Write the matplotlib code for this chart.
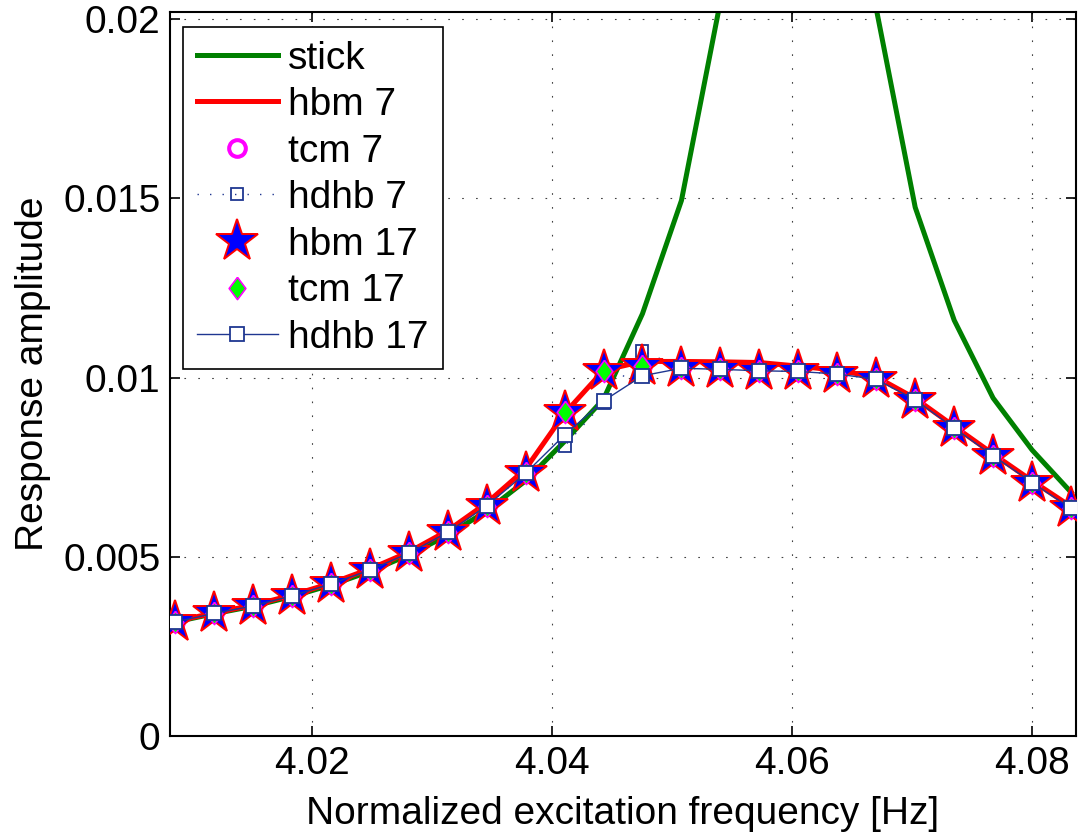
import matplotlib
matplotlib.use("Agg")
import matplotlib.pyplot as plt
import numpy as np

plt.rcParams['font.family'] = ['Liberation Sans', 'DejaVu Sans']

# ---- data ----
freq = [4.00858, 4.01183, 4.01508, 4.01832, 4.02157, 4.02482, 4.02806, 4.03131,
        4.03456, 4.03780, 4.04105, 4.04430, 4.04754, 4.05079, 4.05404, 4.05728,
        4.06053, 4.06378, 4.06702, 4.07027, 4.07352, 4.07676, 4.08001, 4.08326]

stick = [0.00318, 0.00341, 0.00362, 0.00389, 0.00421, 0.00459, 0.00505, 0.00560,
         0.00628, 0.00712, 0.00822, 0.00940, 0.01178, 0.01494, 0.02050, 0.03500,
         0.05000, 0.03000, 0.02030, 0.01475, 0.01160, 0.00943, 0.00798, 0.00680]

hbm7 = [0.00320, 0.00343, 0.00365, 0.00393, 0.00426, 0.00466, 0.00513, 0.00573,
        0.00650, 0.00745, 0.00900, 0.01020, 0.01045, 0.01045, 0.01044, 0.01042,
        0.01032, 0.01020, 0.01002, 0.00942, 0.00864, 0.00787, 0.00712, 0.00640]

tcm7 = [0.00318, 0.00342, 0.00363, 0.00391, 0.00424, 0.00463, 0.00510, 0.00568,
        0.00642, 0.00733, 0.00905, 0.01017, 0.01031, 0.01026, 0.01023, 0.01019,
        0.01017, 0.01010, 0.00995, 0.00938, 0.00859, 0.00782, 0.00707, 0.00635]

hdhb7 = [0.00318, 0.00342, 0.00363, 0.00391, 0.00424, 0.00463, 0.00510, 0.00568,
         0.00642, 0.00733, 0.00809, 0.00930, 0.01075, 0.01026, 0.01023, 0.01019,
         0.01017, 0.01010, 0.00995, 0.00938, 0.00859, 0.00782, 0.00707, 0.00635]

hbm17 = [0.00318, 0.00342, 0.00363, 0.00391, 0.00424, 0.00463, 0.00510, 0.00568,
         0.00642, 0.00733, 0.00905, 0.01017, 0.01031, 0.01026, 0.01023, 0.01019,
         0.01017, 0.01010, 0.00995, 0.00938, 0.00859, 0.00782, 0.00707, 0.00635]

tcm17 = [0.00318, 0.00342, 0.00363, 0.00391, 0.00424, 0.00463, 0.00510, 0.00568,
         0.00642, 0.00733, 0.00905, 0.01017, 0.01031, 0.01026, 0.01023, 0.01019,
         0.01017, 0.01010, 0.00995, 0.00938, 0.00859, 0.00782, 0.00707, 0.00635]

hdhb17 = [0.00318, 0.00342, 0.00363, 0.00391, 0.00424, 0.00463, 0.00510, 0.00568,
          0.00642, 0.00733, 0.00840, 0.00935, 0.01005, 0.01026, 0.01023, 0.01019,
          0.01017, 0.01010, 0.00995, 0.00938, 0.00859, 0.00782, 0.00707, 0.00635]

xticks = [4.02, 4.04, 4.06, 4.08]
xticklabels = ['4.02', '4.04', '4.06', '4.08']
yticks = [0, 0.005, 0.01, 0.015, 0.02]
yticklabels = ['0', '0.005', '0.01', '0.015', '0.02']

# ---- figure ----
W, H = 1088, 832
fig = plt.figure(figsize=(W / 100, H / 100), dpi=100)
ax = fig.add_axes([170 / W, 1 - 736 / H, (1076 - 170) / W, (736 - 12) / H])

navy = '#1f3791'
diamond = [(0, 1), (0.75, 0), (0, -1), (-0.75, 0), (0, 1)]

ax.plot(freq, stick, color='#008000', lw=3.6, label='stick', zorder=2)
ax.plot(freq, hbm7, color='#ff0000', lw=3.6, label='hbm 7', zorder=3)
ax.plot(freq, tcm7, ls='none', marker='o', ms=12, mfc='none', mec='#ff00ff',
        mew=2.9, label='tcm 7', zorder=4)
ax.plot(freq, hdhb7, ls=(0, (1, 8)), lw=1.0, color=navy, marker='s', ms=9,
        mfc='none', mec=navy, mew=1.3, label='hdhb 7', zorder=5)
ax.plot(freq, hbm17, ls='none', marker='*', ms=32, mfc='#0000ff', mec='#ff0000',
        mew=1.4, label='hbm 17', zorder=6)
ax.plot(freq, tcm17, ls='none', marker=diamond, ms=16, mfc='#00ff00', mec='#ff00ff',
        mew=1.2, label='tcm 17', zorder=7)
ax.plot(freq, hdhb17, ls='-', lw=1.0, color=navy, marker='s', ms=9.5, mfc='white',
        mec=navy, mew=1.3, label='hdhb 17', zorder=8)

ax.set_xlim(4.00817, 4.08367)
ax.set_ylim(0, 0.0202)
ax.set_xticks(xticks)
ax.set_xticklabels(xticklabels)
ax.set_yticks(yticks)
ax.set_yticklabels(yticklabels)

ax.grid(True, color='#404040', ls=(0, (1.5, 11)), lw=0.8)
ax.tick_params(direction='in', length=7, width=1.2, labelsize=28, pad=7,
               top=True, right=True, colors='black')
for s in ax.spines.values():
    s.set_linewidth(1.5)
    s.set_color('black')

ax.set_xlabel('Normalized excitation frequency [Hz]', fontsize=28)
ax.set_ylabel('Response amplitude', fontsize=28)
ax.xaxis.set_label_coords(0.5, -0.083)
ax.yaxis.set_label_coords(-0.131, 0.5)

leg = ax.legend(loc='upper left', bbox_to_anchor=(183 / W, 1 - 27 / H),
                bbox_transform=fig.transFigure, borderaxespad=0, fontsize=28,
                numpoints=1, handlelength=2.1, handletextpad=0.26,
                borderpad=0.35, labelspacing=0.27, fancybox=False, framealpha=1,
                edgecolor='black')
leg.get_frame().set_linewidth(1.2)

fig.savefig('out.png', dpi=100)
